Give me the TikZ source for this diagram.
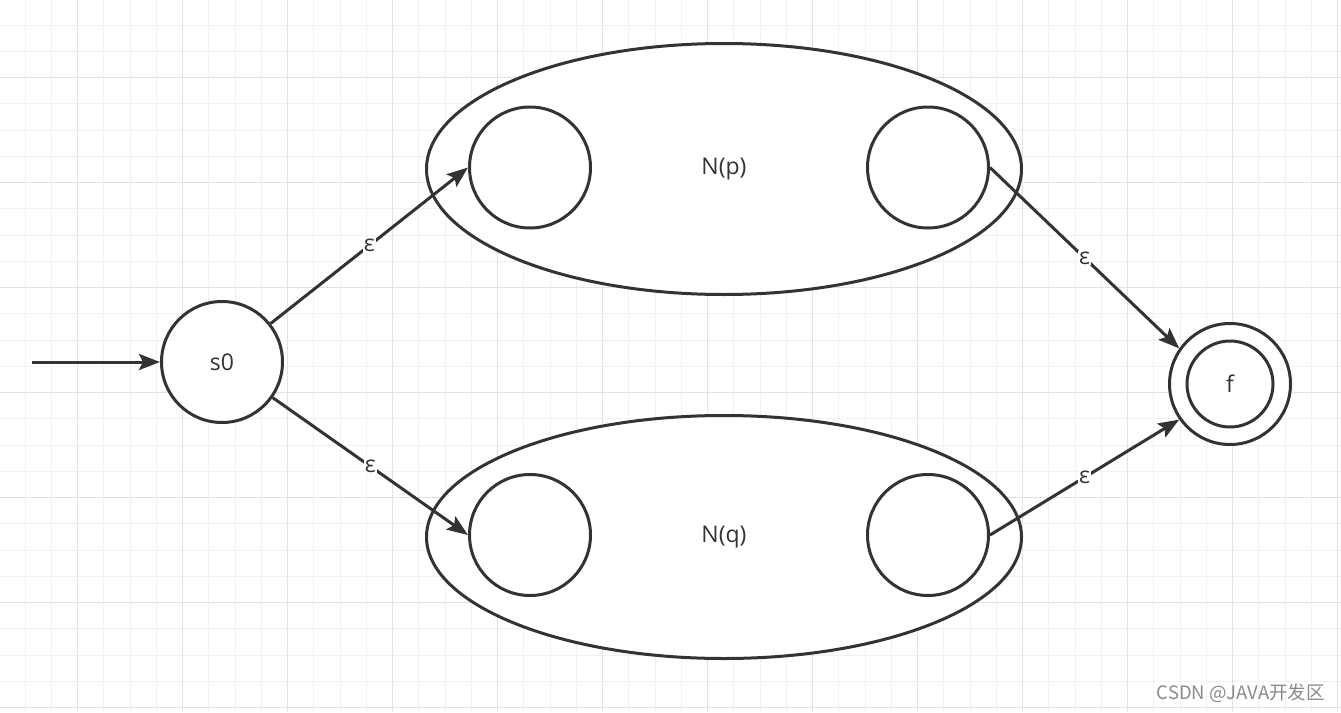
\documentclass[tikz,border=0pt]{standalone}
\usepackage{fontspec}
\setmainfont{Open Sans}
\newfontfamily\cjkfont{Noto Sans CJK SC}
\usetikzlibrary{shapes.geometric,arrows.meta}
\definecolor{ink}{HTML}{333333}
\definecolor{gridminor}{HTML}{F1F1F1}
\definecolor{gridmajor}{HTML}{E2E2E2}
\definecolor{wmark}{HTML}{8A8A8A}
\begin{document}
\begin{tikzpicture}[x=1pt,y=-1pt,
  txt/.style={font=\fontsize{23}{27}\selectfont,text=ink},
  state/.style={circle,draw=ink,line width=3pt,fill=white,minimum size=121pt,inner sep=0pt,txt},
  group/.style={ellipse,draw=ink,line width=3pt,fill=white,minimum width=595pt,inner sep=0pt,txt},
  edge/.style={draw=ink,line width=3pt,-{Stealth[length=21pt,width=16pt,inset=4pt]}},
  lbl/.style={fill=white,inner sep=1pt,txt}]
\useasboundingbox (0,0) rectangle (1341,712);
\fill[white] (0,0) rectangle (1341,712);
% grid
\foreach \i in {0,...,50}{\draw[gridminor,line width=1pt] ({25+26.25*\i},0) -- ({25+26.25*\i},712);}
\foreach \i in {0,...,26}{\draw[gridminor,line width=1pt] (0,{25+26.25*\i}) -- (1341,{25+26.25*\i});}
\foreach \i in {2,6,...,50}{\draw[gridmajor,line width=1pt] ({25+26.25*\i},0) -- ({25+26.25*\i},712);}
\foreach \i in {2,6,...,26}{\draw[gridmajor,line width=1pt] (0,{25+26.25*\i}) -- (1341,{25+26.25*\i});}
% groups
\node[group,minimum height=251pt] (Np) at (724,169) {N(p)};
\node[group,minimum height=243pt] (Nq) at (724,537) {N(q)};
% states
\node[state] (s0) at (222,362) {s0};
\node[state] (p1) at (530,167.5) {};
\node[state] (p2) at (928,167.5) {};
\node[state] (q1) at (530,535) {};
\node[state] (q2) at (928,535) {};
\node[state] (f) at (1230,384) {};
\node[state,minimum size=86pt] (fin) at (f.center) {f};
% edges
\coordinate (start) at (32,362);
\draw[edge] (start) -- (s0.west);
\draw[edge] (s0) -- node[lbl] (e1) {ε} (p1.west);
\draw[edge] (s0) -- node[lbl] (e2) {ε} (q1.west);
\draw[edge] (p2.east) -- node[lbl] (e3) {ε} (f.145);
\draw[edge] (q2.east) -- node[lbl] (e4) {ε} (f.215);
% watermark
\node[anchor=east,inner sep=0pt,text=wmark,font=\cjkfont\fontsize{18.5}{22}\selectfont] (wm) at (1325,693) {CSDN @JAVA开发区};
\end{tikzpicture}
\end{document}
